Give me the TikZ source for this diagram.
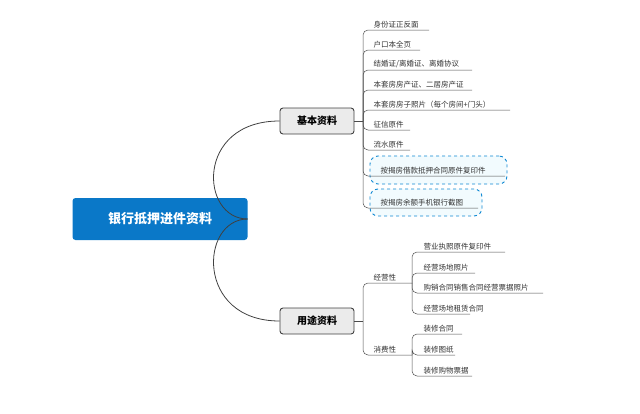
\documentclass[tikz,border=0pt]{standalone}
\usepackage{fontspec}
\setmainfont{Noto Sans CJK SC}
\definecolor{rootblue}{RGB}{10,120,200}
\begin{document}
\begin{tikzpicture}[x=1pt,y=-1pt,
  rootbox/.style={fill=rootblue,rounded corners=3pt,text=white,font=\fontsize{13}{13}\selectfont\bfseries,minimum width=175pt,minimum height=42pt},
  mainbox/.style={draw=black!75,fill=black!8,rounded corners=3pt,line width=0.9pt,font=\fontsize{10}{10}\selectfont\bfseries,minimum width=74pt,minimum height=26pt},
  item/.style={anchor=south west,inner sep=1.5pt,font=\fontsize{7.5}{7.5}\selectfont,text=black!80},
  hilite/.style={draw=cyan!70!blue,dashed,line width=0.9pt,rounded corners=8pt,fill=cyan!5},
  branch/.style={draw=black!70,line width=0.5pt,rounded corners=5pt},
  trunk/.style={draw=black!75,line width=0.8pt}]
\useasboundingbox (0,0) rectangle (640,413);
\node[rootbox] (root) at (160,219) {银行抵押进件资料};
\node[mainbox] (base) at (317,121) {基本资料};
\node[mainbox] (use) at (317,321) {用途资料};
\draw[trunk] (root.east) .. controls (200,219) and (195,121) .. (base.west);
\draw[trunk] (root.east) .. controls (200,219) and (195,321) .. (use.west);
% basic items
\coordinate (bj) at (363,121);
\draw[branch] (base.east) -- (bj);
\node[hilite,minimum width=137pt,minimum height=28pt] (hl1) at (438.5,170) {};
\node[hilite,minimum width=112pt,minimum height=27pt] (hl2) at (426,202.5) {};
\foreach \name/\txt/\yy/\xe/\xs in {a1/身份证正反面/30/429/372, a2/户口本全页/50/420/372,
  a3/{结婚证/离婚证、离婚协议}/70/472/372, a4/本套房房产证、二居房产证/90/472/372,
  a5/本套房房子照片（每个房间+门头）/110/510/372, a6/征信原件/130/410/372,
  a7/流水原件/150/410/372, a8/按揭房借款抵押合同原件复印件/176/505/379,
  a9/按揭房余额手机银行截图/208/478/379} {
  \node[item] (\name) at (\xs,\yy) {\txt};
  \draw[branch] (bj) |- (\xe,\yy);
}
% use items
\coordinate (uj) at (363,321);
\draw[branch] (use.east) -- (uj);
\node[item] (jy) at (372,283) {经营性};
\node[item] (xf) at (372,355) {消费性};
\draw[branch] (uj) |- (412,283);
\draw[branch] (uj) |- (412,355);
\coordinate (jyj) at (412,283);
\coordinate (xfj) at (412,355);
\foreach \name/\txt/\yy/\xe in {b1/营业执照原件复印件/252/505, b2/经营场地照片/273/475,
  b3/购销合同销售合同经营票据照片/293/543, b4/经营场地租赁合同/314/470} {
  \node[item] (\name) at (422,\yy) {\txt};
  \draw[branch] (jyj) |- (\xe,\yy);
}
\foreach \name/\txt/\yy/\xe in {c1/装修合同/334/462, c2/装修图纸/355/455, c3/装修购物票据/376/472} {
  \node[item] (\name) at (422,\yy) {\txt};
  \draw[branch] (xfj) |- (\xe,\yy);
}
\end{tikzpicture}
\end{document}
